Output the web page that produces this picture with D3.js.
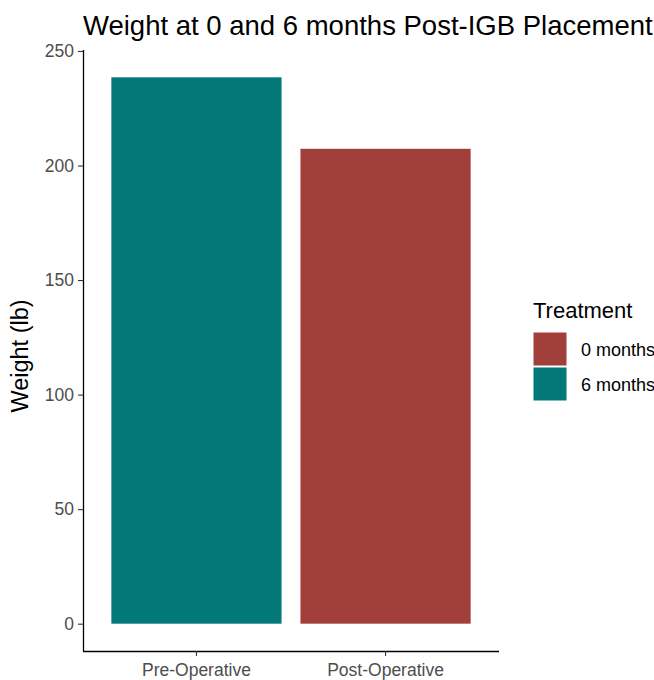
<!DOCTYPE html>
<meta charset="utf-8">
<style>
body { margin: 0; background: #fff; }
svg { font-family: "Liberation Sans", Arial, sans-serif; }
.axis text { fill: #4d4d4d; font-size: 17.5px; }
.axis line { stroke: #333; stroke-width: 1.1px; }
.axis path { stroke: #000; stroke-width: 1.3px; }
</style>
<body>
<div id="chart"></div>
<script src="https://cdnjs.cloudflare.com/ajax/libs/d3/7.8.5/d3.min.js"></script>
<script>

// data
var categories = ["Pre-Operative", "Post-Operative"];
var weights = [238.5, 207.3];
var treatment = ["6 months", "0 months"];
var legendKeys = ["0 months", "6 months"];
var legendColors = ["#a13f3a", "#037879"];
var yTicks = [0, 50, 100, 150, 200, 250];

var width = 654, height = 680;
var margin = {top: 50, right: 155, bottom: 29, left: 83};
var pw = width - margin.left - margin.right,
    ph = height - margin.top - margin.bottom;

var svg = d3.select("#chart").append("svg")
  .attr("width", width)
  .attr("height", height);

var g = svg.append("g")
  .attr("transform", "translate(" + margin.left + "," + margin.top + ")");

var maxW = d3.max(weights);
var yScale = d3.scaleLinear()
  .domain([-0.05 * maxW, maxW * 1.05])
  .range([ph, 0]);

var xScale = d3.scaleBand()
  .domain(categories)
  .range([0, pw])
  .paddingInner(0.1)
  .paddingOuter(0.15);

var color = d3.scaleOrdinal().domain(legendKeys).range(legendColors);

g.selectAll("rect.bar")
  .data(categories)
  .enter().append("rect")
  .attr("class", "bar")
  .attr("x", function(d) { return xScale(d); })
  .attr("width", xScale.bandwidth())
  .attr("y", function(d, i) { return yScale(weights[i]); })
  .attr("height", function(d, i) { return yScale(0) - yScale(weights[i]); })
  .style("fill", function(d, i) { return color(treatment[i]); });

// axes
var yAxis = g.append("g")
  .attr("class", "axis")
  .call(d3.axisLeft(yScale).tickValues(yTicks).tickSize(5).tickPadding(4).tickSizeOuter(0));
yAxis.select(".domain").attr("d", "M0.5," + ph + "V0");

var xAxis = g.append("g")
  .attr("class", "axis")
  .attr("transform", "translate(0," + ph + ")")
  .call(d3.axisBottom(xScale).tickSize(5).tickPadding(4).tickSizeOuter(0));
xAxis.select(".domain").attr("d", "M0,0.5H" + pw);
xAxis.selectAll(".tick text").attr("dy", "0.9em");

// title
svg.append("text")
  .attr("x", margin.left)
  .attr("y", 35)
  .style("font-size", "27.5px")
  .style("fill", "#000")
  .text("Weight at 0 and 6 months Post-IGB Placement");

// y axis title
svg.append("text")
  .attr("transform", "translate(28,356) rotate(-90)")
  .attr("text-anchor", "middle")
  .style("font-size", "23.5px")
  .style("fill", "#000")
  .text("Weight (lb)");

// legend
var lg = svg.append("g").attr("transform", "translate(533,300)");
lg.append("text")
  .attr("x", 0)
  .attr("y", 18)
  .style("font-size", "22px")
  .style("fill", "#000")
  .text("Treatment");

var item = lg.selectAll("g.item")
  .data(legendKeys)
  .enter().append("g")
  .attr("class", "item")
  .attr("transform", function(d, i) { return "translate(0," + (32 + i * 35) + ")"; });

item.append("rect")
  .attr("width", 34)
  .attr("height", 34)
  .style("fill", function(d) { return color(d); })
  .style("stroke", "#fff")
  .style("stroke-width", 1);

item.append("text")
  .attr("x", 48)
  .attr("y", 24)
  .style("font-size", "18px")
  .style("fill", "#000")
  .text(function(d) { return d; });

</script>
</body>
